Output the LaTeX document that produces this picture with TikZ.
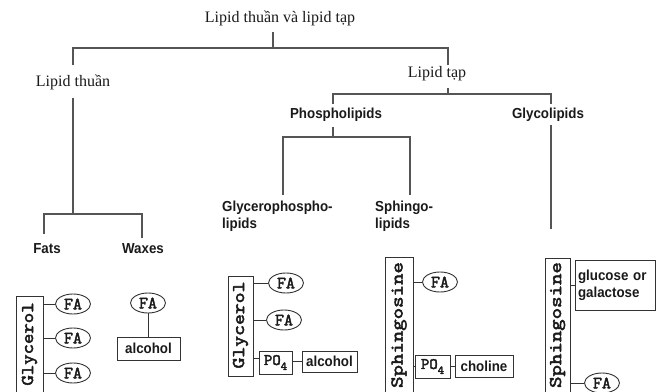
\documentclass[tikz,border=0pt]{standalone}
\usepackage{fontspec}
\setmainfont{Liberation Serif}
\newfontfamily\sfb{Liberation Sans}[FakeStretch=0.92]
\newfontfamily\monob{lmmono10-regular.otf}[FakeBold=2.5]
\usetikzlibrary{shapes.geometric,shadows}
\definecolor{lc}{HTML}{555555}
\definecolor{bc}{HTML}{333333}
\definecolor{tc}{HTML}{1A1A1A}
\tikzset{
  treeline/.style={draw=lc, line width=1.1pt},
  serif/.style={font=\fontsize{16}{19}\selectfont, text=tc, inner sep=1pt},
  bsans/.style={font=\sfb\bfseries\fontsize{14.5}{17}\selectfont, text=tc, inner sep=1pt, align=left},
  fa/.style={draw=bc, line width=0.9pt, ellipse, minimum width=35pt, minimum height=20pt, inner sep=0pt, fill=white, text=tc, font=\monob\fontsize{17}{17}\selectfont},
  vbox/.style={draw=bc, line width=0.9pt, inner sep=0pt, fill=white},
  vtext/.style={rotate=90, inner sep=0pt, text=tc, font=\monob\fontsize{18}{18}\selectfont},
  rbox/.style={draw=bc, line width=0.9pt, inner sep=0pt, fill=white, text=tc, font=\sfb\bfseries\fontsize{14.5}{17}\selectfont},
  pobox/.style={rbox, font=\monob\fontsize{16}{16}\selectfont, drop shadow={opacity=1, fill=bc, shadow xshift=1.2pt, shadow yshift=-1.2pt}},
  conn/.style={draw=bc, line width=0.9pt},
}
\begin{document}
\begin{tikzpicture}[x=1pt,y=-1pt]
\useasboundingbox (0,0) rectangle (656,391);
\fill[white] (0,0) rectangle (656,391);
\clip (0,0) rectangle (656,391);

% ---- tree text
\node[serif] (title) at (280,18) {Lipid thuần và lipid tạp};
\node[serif] (lthuan) at (73,82) {Lipid thuần};
\node[serif] (ltap) at (437,74) {Lipid tạp};
\node[bsans] (phos) at (336,115) {Phospholipids};
\node[bsans] (glyco) at (548,115) {Glycolipids};
\node[bsans] (fats) at (47,249) {Fats};
\node[bsans] (waxes) at (143,249) {Waxes};
\node[bsans, anchor=west] (gpl) at (221,216) {Glycerophospho-\\lipids};
\node[bsans, anchor=west] (spl) at (374,216) {Sphingo-\\lipids};

% ---- tree coordinates
\coordinate (t0) at (273,32);
\coordinate (j0) at (273,48);
\coordinate (jL) at (73,48);
\coordinate (jR) at (448,48);
\coordinate (jLa) at (73,65);
\coordinate (jRa) at (448,65);
\coordinate (jLb) at (73,98);
\coordinate (jLc) at (73,214);
\coordinate (jF) at (44,214);
\coordinate (jW) at (142,214);
\coordinate (jFe) at (44,234);
\coordinate (jWe) at (142,238);
\coordinate (jRb) at (448,88);
\coordinate (jRc) at (448,94);
\coordinate (jP) at (333,94);
\coordinate (jG) at (551,94);
\coordinate (jPe) at (333,104);
\coordinate (jGe) at (551,104);
\coordinate (jPb) at (333,127);
\coordinate (jPc) at (333,137);
\coordinate (jGP) at (283,137);
\coordinate (jSP) at (410,137);
\coordinate (jGPe) at (283,195);
\coordinate (jSPe) at (410,195);
\coordinate (jGb) at (551,125);
\coordinate (jGc) at (551,229);

\draw[treeline] (t0) -- (j0);
\draw[treeline] (jLa) -- (jL) -- (jR) -- (jRa);
\draw[treeline] (jLb) -- (jLc);
\draw[treeline] (jFe) -- (jF) -- (jW) -- (jWe);
\draw[treeline] (jRb) -- (jRc);
\draw[treeline] (jPe) -- (jP) -- (jG) -- (jGe);
\draw[treeline] (jPb) -- (jPc);
\draw[treeline] (jGPe) -- (jGP) -- (jSP) -- (jSPe);
\draw[treeline] (jGb) -- (jGc);

% ---- Fats
\node[vbox, minimum width=27pt, minimum height=98pt] (gly1) at (29.5,345) {};
\node[vtext] at (29.5,344) {\scalebox{1.1}[1]{Glycerol}};
\node[fa] (fa1) at (73,304) {FA};
\node[fa] (fa2) at (73,338) {FA};
\node[fa] (fa3) at (73,373) {FA};
\draw[conn] (fa1.west) -- (fa1.west -| gly1.east);
\draw[conn] (fa2.west) -- (fa2.west -| gly1.east);
\draw[conn] (fa3.west) -- (fa3.west -| gly1.east);

% ---- Waxes
\node[fa] (fa4) at (148,303) {FA};
\node[rbox, minimum width=63pt, minimum height=23pt] (alc1) at (148.5,348.5) {alcohol};
\draw[conn] (fa4.south) -- (fa4.south |- alc1.north);

% ---- Glycerophospholipids
\node[vbox, minimum width=25pt, minimum height=100pt] (gly2) at (240.5,326) {};
\node[vtext] at (240.5,325) {\scalebox{1.15}[1]{Glycerol}};
\node[fa] (fa5) at (286,283) {FA};
\node[fa] (fa6) at (284,320) {FA};
\node[pobox, minimum width=33pt, minimum height=23pt] (po1) at (275.5,362.5) {PO\raisebox{-5pt}{\fontsize{12}{12}\selectfont 4}};
\node[rbox, minimum width=55pt, minimum height=21pt] (alc2) at (329.5,361.5) {alcohol};
\draw[conn] (fa5.west) -- (fa5.west -| gly2.east);
\draw[conn] (fa6.west) -- (fa6.west -| gly2.east);
\draw[conn] ([yshift=4pt]po1.west) -- ([yshift=4pt]po1.west -| gly2.east);
\draw[conn] (po1.east |- alc2.west) -- (alc2.west);

% ---- Sphingolipids
\node[vbox, minimum width=28pt, minimum height=138pt] (sph1) at (399,326) {};
\node[vtext] at (399,325) {\scalebox{1.21}[1]{Sphingosine}};
\node[fa] (fa7) at (440,282) {FA};
\node[pobox, minimum width=35pt, minimum height=23pt] (po2) at (432.5,366.5) {PO\raisebox{-5pt}{\fontsize{12}{12}\selectfont 4}};
\node[rbox, minimum width=58pt, minimum height=22pt] (chol) at (484,366) {choline};
\draw[conn] (fa7.west) -- (fa7.west -| sph1.east);
\draw[conn] (po2.west) -- (po2.west -| sph1.east);
\draw[conn] (po2.east |- chol.west) -- (chol.west);

% ---- Glycolipids
\node[vbox, minimum width=25pt, minimum height=137pt] (sph2) at (557.5,326.5) {};
\node[vtext] at (557.5,325) {\scalebox{1.21}[1]{Sphingosine}};
\node[rbox, minimum width=80pt, minimum height=50pt, align=left, text width=74pt] (glu) at (615,285) {glucose or\\galactose};
\node[fa] (fa8) at (602,383) {FA};
\draw[conn] (glu.west) -- (glu.west -| sph2.east);
\draw[conn] (fa8.west) -- (fa8.west -| sph2.east);
\end{tikzpicture}
\end{document}
